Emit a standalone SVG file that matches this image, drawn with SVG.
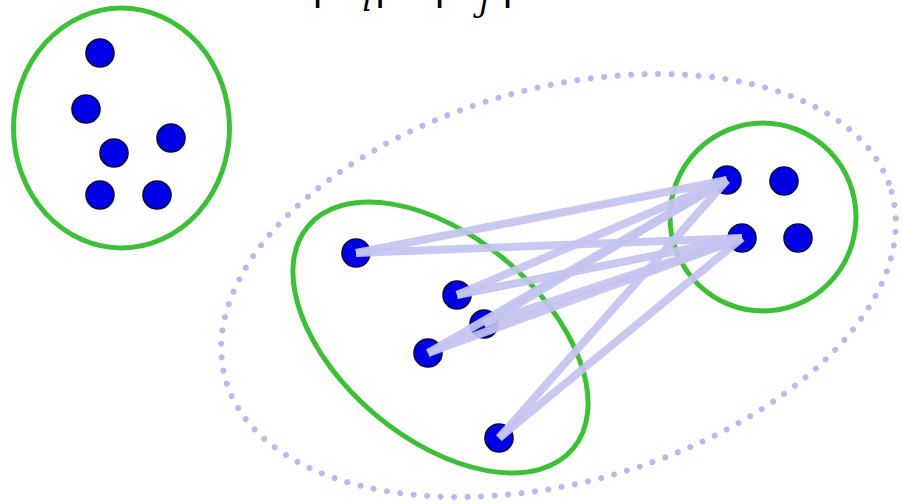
<svg xmlns="http://www.w3.org/2000/svg" width="902" height="504" viewBox="0 0 902 504">
<style>
.cluster{fill:none;stroke:#3ebf38;stroke-width:5}
.outer{fill:none;stroke:#b9b9ec;stroke-width:6;stroke-linecap:round;stroke-dasharray:0 13.5}
.node{fill:#0000e6;stroke:#0a0a40;stroke-width:1.6}
.edge{stroke:#c4c4f0;stroke-width:8;stroke-linecap:butt;opacity:0.92}
.bar{font-family:"DejaVu Sans",sans-serif;font-size:42px;fill:#000}
.sub{font-family:"DejaVu Serif",serif;font-style:italic;font-size:32px;fill:#000}
</style>
<rect width="902" height="504" fill="#fff"/>
<g id="formula">
<text class="bar" text-anchor="middle"><tspan x="317.5" y="-2">|</tspan><tspan x="342" y="-2">C</tspan><tspan class="sub" x="367" y="11">i</tspan><tspan x="380" y="-2">|</tspan><tspan x="439.5" y="-2">|</tspan><tspan x="462" y="-2">C</tspan><tspan class="sub" x="484" y="11">j</tspan><tspan x="507.5" y="-2">|</tspan></text>
</g>
<g id="outer-cluster">
<ellipse class="outer" cx="558.5" cy="285.5" rx="346" ry="197" transform="rotate(-15.7 558.5 285.5)"/>
</g>
<g id="cluster-a"><ellipse class="cluster" cx="121.5" cy="128" rx="108" ry="120"/></g>
<g id="cluster-b"><ellipse class="cluster" cx="440.5" cy="337.5" rx="173" ry="101" transform="rotate(40 440.5 337.5)"/></g>
<g id="cluster-c"><ellipse class="cluster" cx="763" cy="217" rx="93" ry="94"/></g>
<g id="a1"><circle class="node" cx="100" cy="53" r="14"/></g>
<g id="a2"><circle class="node" cx="86" cy="109" r="14"/></g>
<g id="a3"><circle class="node" cx="114" cy="153" r="14"/></g>
<g id="a4"><circle class="node" cx="171" cy="138" r="14"/></g>
<g id="a5"><circle class="node" cx="100" cy="195" r="14"/></g>
<g id="a6"><circle class="node" cx="157" cy="195" r="14"/></g>
<g id="m1"><circle class="node" cx="356" cy="253" r="14"/></g>
<g id="m2"><circle class="node" cx="457" cy="295" r="14"/></g>
<g id="m3"><circle class="node" cx="484" cy="324" r="14"/></g>
<g id="m4"><circle class="node" cx="428" cy="353" r="14"/></g>
<g id="m5"><circle class="node" cx="499" cy="438" r="14"/></g>
<g id="r1"><circle class="node" cx="727" cy="180" r="14"/></g>
<g id="r2"><circle class="node" cx="784" cy="181" r="14"/></g>
<g id="r3"><circle class="node" cx="742" cy="238" r="14"/></g>
<g id="r4"><circle class="node" cx="798" cy="238" r="14"/></g>
<g id="connectors">
<line class="edge" x1="356" y1="253" x2="727" y2="180"/>
<line class="edge" x1="356" y1="253" x2="742" y2="238"/>
<line class="edge" x1="457" y1="295" x2="727" y2="180"/>
<line class="edge" x1="457" y1="295" x2="742" y2="238"/>
<line class="edge" x1="484" y1="324" x2="727" y2="180"/>
<line class="edge" x1="484" y1="324" x2="742" y2="238"/>
<line class="edge" x1="428" y1="353" x2="727" y2="180"/>
<line class="edge" x1="428" y1="353" x2="742" y2="238"/>
<line class="edge" x1="499" y1="438" x2="727" y2="180"/>
<line class="edge" x1="499" y1="438" x2="742" y2="238"/>
</g>
</svg>
